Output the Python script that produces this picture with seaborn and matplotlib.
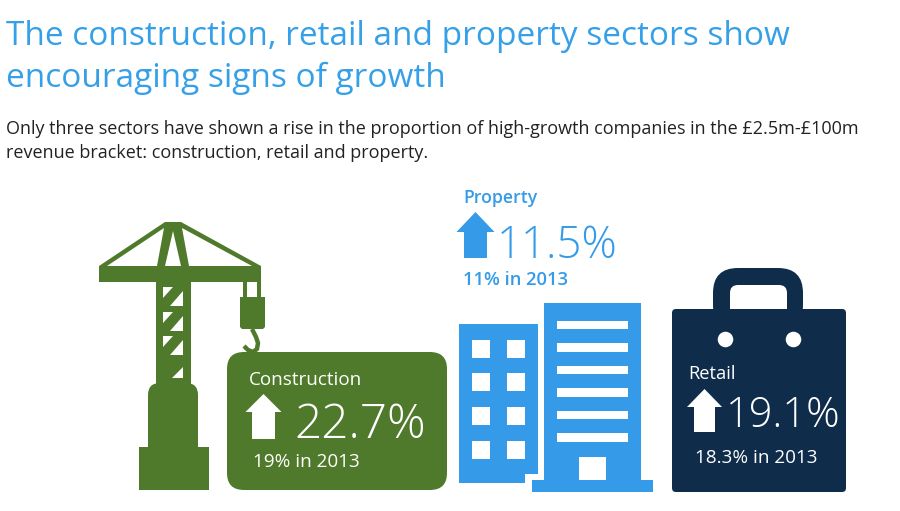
# Sector growth infographic, drawn on a pixel-sized canvas
import matplotlib
matplotlib.use("Agg")
import matplotlib.pyplot as plt
import pandas as pd
import seaborn as sns
from matplotlib.patches import FancyBboxPatch, Polygon, Rectangle

sns.set_theme(style="white")
plt.rcParams['font.family'] = ['Open Sans', 'DejaVu Sans']

# --- data ---
sectors = ["Construction", "Property", "Retail"]
share_2014 = ["22.7%", "11.5%", "19.1%"]
share_2013 = ["19%", "11%", "18.3%"]

title_lines = ["The construction, retail and property sectors show",
               "encouraging signs of growth"]
intro_lines = ["Only three sectors have shown a rise in the proportion of high-growth companies in the £2.5m-£100m",
               "revenue bracket: construction, retail and property."]

GREEN, BLUE, NAVY = sns.color_palette(["#4f7a2b", "#359be8", "#0f2c4a"])
WHITE = "white"

fig = plt.figure(figsize=(9, 5.11), dpi=100)
ax = fig.add_axes([0, 0, 1, 1])


def poly(pts, color, z=2):
    ax.add_patch(Polygon(pts, closed=True, fc=color, ec="none", zorder=z))


def rect(x0, y0, x1, y1, color, z=2):
    ax.add_patch(Rectangle((x0, y0), x1 - x0, y1 - y0, fc=color, ec="none", zorder=z))


def rounded(x0, y0, x1, y1, r, color, z=2):
    ax.add_patch(FancyBboxPatch((x0 + r, y0 + r), x1 - x0 - 2 * r, y1 - y0 - 2 * r,
                                boxstyle=f"round,pad={r},rounding_size={r}",
                                fc=color, ec="none", zorder=z))


def up_arrow(tip_x, tip_y, half_w, stem_w, wing_y, bottom, color):
    poly([(tip_x, tip_y), (tip_x + half_w, wing_y), (tip_x + stem_w, wing_y),
          (tip_x + stem_w, bottom), (tip_x - stem_w, bottom),
          (tip_x - stem_w, wing_y), (tip_x - half_w, wing_y)], color, z=4)


def label(x, y, s, color, size, weight="normal"):
    ax.text(x, y, s, color=color, fontsize=size, fontweight=weight,
            ha="left", va="baseline", zorder=5)


# --- header ---
for y, line in zip([45, 87], title_lines):
    label(6, y, line, "#35a0e8", 24)
for y, line in zip([134, 158], intro_lines):
    label(6, y, line, "#222222", 12.95)

# --- crane ---
poly([(99, 266), (165, 222), (181, 222), (261, 266), (261, 282), (99, 282)], GREEN)
poly([(107, 266), (164, 228), (157, 266)], WHITE, z=3)
poly([(165, 266), (173, 231), (181, 266)], WHITE, z=3)
poly([(189, 266), (182, 228), (252, 266)], WHITE, z=3)
rect(156, 282, 191, 385, GREEN)
for y0 in [287, 312, 336]:
    poly([(163, y0), (173, y0), (163, y0 + 11)], WHITE, z=3)
    poly([(183, y0 + 4), (183, y0 + 19), (170, y0 + 19)], WHITE, z=3)
poly([(183, 367), (183, 378), (172, 378)], WHITE, z=3)
rounded(148, 383, 198, 460, 12, GREEN)
rect(139, 447, 209, 490, GREEN)
# hook and block
rect(243, 282, 261, 298, GREEN)
rect(247, 282, 257, 297, WHITE, z=3)
poly([(240, 297), (265, 297), (265, 327), (263, 329), (242, 329), (240, 327)], GREEN)
ax.plot([252, 256, 258, 257, 253, 248, 244], [329, 337, 343, 349, 352, 350, 346],
        color=GREEN, lw=3.2, solid_capstyle="butt", zorder=2)

# --- construction panel ---
rounded(227, 352, 447, 490, 17, GREEN)
up_arrow(263.5, 394, 18, 11.5, 412, 439, WHITE)
label(249, 385, sectors[0], WHITE, 13.6, "medium")
label(294, 438, share_2014[0], WHITE, 34.5, "light")
label(253, 467, f"{share_2013[0]} in 2013", WHITE, 13.6, "medium")

# --- property ---
up_arrow(475.5, 212, 19, 11.5, 232, 258, BLUE)
label(463, 203, sectors[1], BLUE, 12.7, "semibold")
label(497, 258, share_2014[1], BLUE, 31.5, "light")
label(463, 285, f"{share_2013[1]} in 2013", BLUE, 13.2, "semibold")

rect(459, 324, 538, 474, BLUE)
rect(459, 474, 525, 483, BLUE)
for wx in [472, 507]:
    for wy in [340, 373.5, 407, 441]:
        rect(wx, wy, wx + 18, wy + 18, WHITE, z=3)
rect(544, 303, 641, 481, BLUE)
rect(532, 480, 653, 492, BLUE)
for sy in [321, 343.5, 366, 388.5, 411, 433.5]:
    rect(557, sy, 628, sy + 8.5, WHITE, z=3)
rect(579, 457, 606, 480, WHITE, z=3)

# --- retail bag ---
rounded(713, 268, 803, 330, 25, NAVY)
rounded(730, 285, 787, 330, 8, WHITE, z=3)
rounded(672, 309, 846, 492, 4, NAVY, z=4)
eyelets = pd.DataFrame({"x": [725, 793], "y": [339, 339]})
sns.scatterplot(data=eyelets, x="x", y="y", s=125, color=WHITE, linewidth=0, zorder=5,
                ax=ax, legend=False)
up_arrow(704.5, 389, 17.5, 10.5, 407, 432, WHITE)
label(688, 379, sectors[2], WHITE, 13.2, "medium")
label(726, 427, share_2014[2], WHITE, 30, "light")
label(695, 463, f"{share_2013[2]} in 2013", WHITE, 13.6, "medium")

ax.set_xlim(0, 900)
ax.set_ylim(511, 0)
ax.set_xlabel("")
ax.set_ylabel("")
ax.set_xticks([])
ax.set_yticks([])
sns.despine(ax=ax, left=True, bottom=True)

fig.savefig("out.png", dpi=100, facecolor="white")
